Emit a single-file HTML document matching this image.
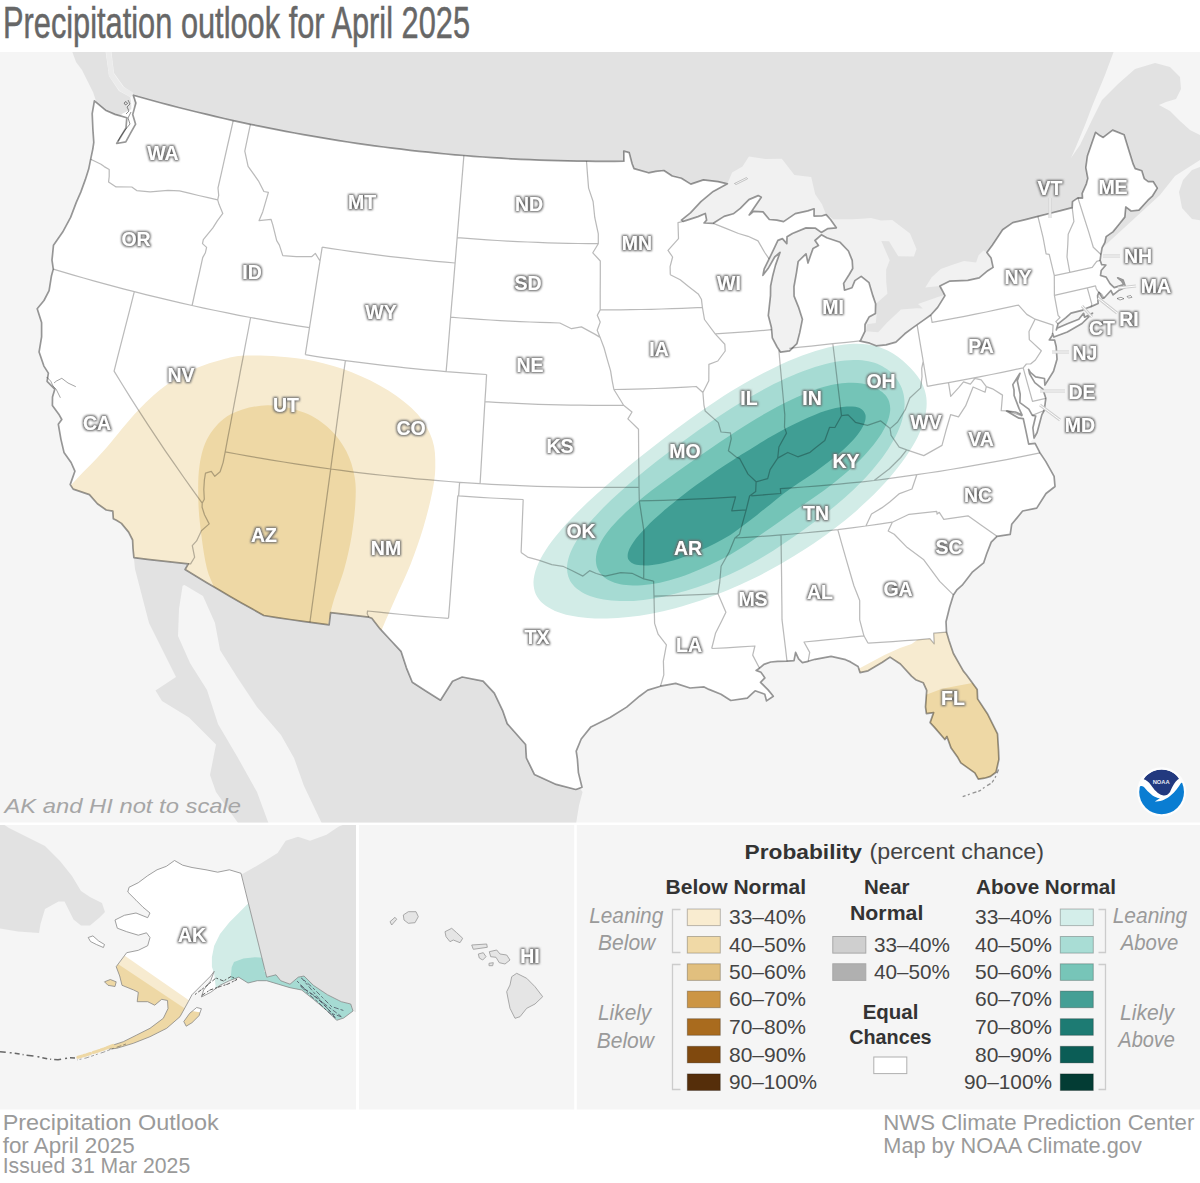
<!DOCTYPE html>
<html><head><meta charset="utf-8"><title>Precipitation outlook for April 2025</title>
<style>
html,body{margin:0;padding:0;background:#fff;}
body{width:1200px;height:1183px;position:relative;overflow:hidden;font-family:"Liberation Sans",sans-serif;}
svg{position:absolute;left:0;top:0;}
text{font-family:"Liberation Sans",sans-serif;}
.lab{font-weight:bold;font-size:19.5px;fill:#fff;text-anchor:middle;}
</style></head><body>
<svg width="1200" height="1183" viewBox="0 0 1200 1183">
<defs>
<clipPath id="mapclip"><rect x="0" y="52" width="1200" height="770.5"/></clipPath>
<clipPath id="usclip"><path d="M133.3 95.2L142.3 97.7L151.3 100.2L160.4 102.7L169.4 105.1L178.5 107.5L187.6 109.8L196.7 112.0L205.8 114.2L214.9 116.4L224.0 118.5L233.2 120.6L250.4 124.3L259.2 126.1L268.0 127.9L276.9 129.7L285.7 131.4L294.5 133.0L303.4 134.6L312.3 136.2L321.1 137.7L330.0 139.2L338.9 140.6L347.8 142.0L356.7 143.3L365.6 144.6L374.5 145.8L383.4 147.0L392.3 148.1L401.3 149.2L410.2 150.3L419.2 151.3L428.1 152.2L437.1 153.1L446.0 154.0L455.0 154.8L463.9 155.5L473.3 156.3L482.8 157.0L492.2 157.6L501.6 158.2L511.0 158.8L520.5 159.3L529.9 159.7L539.3 160.1L548.7 160.4L558.2 160.7L567.6 160.9L577.1 161.1L586.5 161.2L595.9 161.3L605.2 161.3L614.6 161.3L623.9 161.2L623.8 151.0L629.2 152.6L632.1 163.8L634.0 168.6L648.5 172.8L655.7 171.3L663.9 170.5L672.2 176.0L681.4 178.3L690.8 184.1L703.4 179.9L718.1 181.7L727.4 183.8L713.2 191.4L700.9 201.6L690.4 212.9L681.4 220.1L683.3 221.4L698.0 216.6L705.3 213.5L706.6 220.2L704.0 223.0L713.3 223.3L724.1 216.4L733.3 213.8L740.3 208.4L748.9 199.6L758.2 195.6L761.3 197.2L753.4 208.7L749.2 215.0L753.6 211.4L763.0 211.9L769.3 219.5L776.8 220.1L783.6 221.6L795.3 213.6L807.8 210.9L814.1 208.8L814.0 216.1L821.6 216.0L826.1 214.6L830.5 219.5L836.3 227.8L827.9 228.6L821.3 232.4L815.5 228.2L806.0 227.9L792.4 233.5L787.0 236.8L786.8 243.6L782.4 238.6L777.9 240.4L773.9 248.9L769.1 258.9L764.2 268.9L762.9 275.3L768.1 268.6L774.7 257.0L780.0 252.4L775.5 265.1L772.6 276.3L770.6 286.0L770.5 295.6L768.3 315.5L771.4 327.5L772.3 337.8L777.1 347.0L780.6 352.2L789.6 350.8L796.9 343.7L799.8 332.4L802.4 319.3L798.5 307.1L794.1 296.1L794.0 286.5L796.5 272.6L798.2 261.5L806.0 253.8L808.0 263.1L810.9 254.6L813.1 248.4L818.5 245.5L815.0 240.5L821.4 234.8L826.7 237.7L840.1 242.3L848.4 251.0L852.2 260.4L852.7 268.5L849.2 274.5L843.6 283.4L844.5 290.2L852.0 287.8L854.9 280.6L861.2 276.4L869.0 282.7L872.9 295.9L875.6 303.7L875.4 313.4L869.0 317.1L865.0 324.5L864.9 331.4L860.2 341.2L869.6 343.2L876.1 345.8L886.1 344.9L895.9 342.1L904.8 333.8L912.0 328.4L924.7 319.4L930.8 315.0L937.7 307.4L945.0 295.6L939.9 286.0L949.9 281.1L967.8 280.4L979.2 277.8L987.8 270.7L993.1 267.4L991.1 258.1L986.9 252.6L992.3 245.3L1002.6 229.7L1012.8 222.6L1025.4 219.6L1037.9 216.4L1049.3 213.5L1060.8 210.6L1072.2 207.6L1072.5 201.6L1077.9 197.9L1082.5 198.1L1082.2 193.4L1086.4 183.8L1087.8 178.4L1085.8 167.7L1087.4 156.0L1095.6 132.3L1099.8 135.6L1103.2 137.4L1112.6 130.1L1124.1 134.7L1128.6 149.4L1133.2 164.2L1135.2 168.6L1141.8 170.8L1144.2 178.6L1148.2 181.6L1153.1 181.5L1157.3 188.1L1152.6 195.8L1147.9 200.2L1138.9 210.1L1131.1 211.0L1125.8 206.9L1124.8 217.1L1118.9 224.5L1112.9 231.9L1106.1 236.6L1104.8 242.7L1102.1 247.6L1100.9 254.5L1100.1 260.3L1101.7 264.7L1105.9 265.0L1101.2 270.5L1100.5 275.5L1106.1 277.1L1110.0 283.6L1114.2 287.6L1123.8 284.6L1121.8 281.2L1117.7 277.8L1123.1 280.0L1125.6 287.2L1119.1 290.2L1113.1 294.9L1110.9 290.5L1104.1 298.0L1102.6 298.4L1098.9 292.3L1097.6 295.5L1098.1 303.5L1091.0 306.6L1086.4 308.3L1081.8 310.4L1071.0 313.1L1065.9 317.7L1058.0 323.9L1056.3 329.9L1057.0 328.3L1067.4 323.8L1078.8 319.3L1083.6 313.3L1084.6 317.2L1092.5 313.2L1082.0 323.5L1067.3 332.0L1053.9 337.0L1052.6 333.6L1052.4 335.1L1049.3 340.0L1054.6 340.2L1056.2 346.8L1057.0 359.2L1053.5 371.3L1044.9 385.1L1044.5 378.5L1035.6 376.8L1030.4 372.4L1028.6 369.4L1029.6 373.9L1034.8 382.6L1042.9 389.2L1045.8 398.3L1044.2 410.5L1041.9 414.6L1037.1 432.5L1034.0 438.0L1032.9 427.8L1035.7 416.0L1032.3 415.4L1028.8 409.1L1019.9 402.6L1020.2 394.2L1017.3 380.8L1020.0 373.3L1012.8 384.6L1014.0 389.9L1014.1 395.5L1019.0 408.4L1022.1 415.0L1015.4 412.0L1006.6 411.0L1018.9 418.2L1023.3 418.7L1025.6 429.4L1028.1 441.4L1028.7 444.1L1035.1 443.3L1040.0 452.9L1045.7 461.4L1054.1 476.4L1055.0 486.5L1046.0 493.5L1036.7 508.1L1022.6 511.0L1011.7 524.3L1010.2 534.3L997.0 536.3L991.2 542.1L986.6 554.0L983.6 562.9L972.6 571.8L962.2 585.2L957.1 589.6L953.4 594.9L949.6 607.3L946.0 621.7L946.5 632.1L949.0 640.5L953.4 653.5L963.4 671.1L966.4 674.7L977.2 689.4L977.6 698.9L987.4 713.7L997.5 733.8L998.5 750.0L998.9 759.4L996.0 772.2L990.5 776.4L984.5 778.2L978.3 779.2L974.8 772.9L960.8 762.9L957.3 756.7L951.1 748.1L946.9 736.5L944.9 739.5L934.5 727.4L930.1 722.6L933.6 712.6L926.4 713.6L925.5 706.9L926.7 690.4L923.2 682.7L915.6 679.7L911.5 676.1L900.4 664.0L890.0 657.1L882.4 662.2L868.1 670.8L860.0 672.6L858.1 666.5L850.5 661.9L845.6 659.7L831.1 656.3L815.0 659.3L808.1 661.3L802.4 662.6L798.6 658.9L795.6 652.3L794.0 660.6L787.0 661.2L777.7 661.4L770.7 662.0L763.9 664.4L759.5 668.2L756.1 670.4L760.9 672.2L764.9 677.9L760.5 682.3L768.1 689.9L773.3 696.3L766.5 700.9L764.8 694.2L755.1 690.8L751.8 693.8L747.3 698.1L730.8 700.5L721.0 694.2L709.0 689.4L704.1 686.9L690.0 688.0L675.7 683.4L660.5 686.2L647.7 690.1L639.5 696.2L626.6 707.1L610.0 717.5L590.9 726.9L581.2 739.0L576.2 751.1L577.4 759.2L578.4 772.6L582.0 787.2L575.8 789.5L556.2 784.4L534.4 774.4L526.4 758.0L525.6 744.5L507.2 723.6L502.9 711.2L494.3 693.2L483.1 681.2L462.2 677.0L452.5 681.2L440.5 700.2L425.8 691.0L412.3 682.2L406.5 668.1L401.0 651.3L390.4 640.0L379.9 628.7L371.8 618.3L368.9 617.2L356.1 615.7L343.4 614.2L330.6 612.7L329.1 624.8L316.0 623.1L303.0 621.3L289.9 619.5L276.9 617.6L263.8 615.5L252.4 609.1L241.0 602.7L229.7 596.2L218.4 589.6L207.2 583.0L196.1 576.3L185.1 569.5L188.3 563.8L174.7 562.4L161.1 560.9L147.5 559.3L133.9 557.6L133.0 548.5L132.6 540.0L128.6 532.1L121.4 523.4L116.4 520.3L113.3 518.7L112.8 511.1L106.2 510.0L97.4 503.7L89.4 494.6L73.2 489.1L70.2 484.6L74.9 471.2L71.1 462.5L64.0 452.4L60.9 439.1L58.3 424.2L61.8 419.5L58.8 414.2L52.4 405.5L52.5 397.0L54.8 389.2L47.1 381.3L48.4 373.1L43.9 366.1L39.1 351.9L41.6 336.9L41.6 322.6L37.2 308.7L44.0 300.5L49.1 290.6L51.5 275.7L53.3 269.1L52.0 260.2L53.5 245.2L62.7 232.1L70.6 217.4L76.4 202.1L80.8 192.1L85.4 179.4L88.7 169.1L90.7 159.2L92.8 149.1L93.8 142.4L92.9 129.4L92.2 113.7L94.4 100.9L105.5 110.2L115.0 114.4L126.8 117.8L126.0 128.0L116.7 143.5L125.8 141.9L130.4 133.4L135.6 124.2L132.7 114.5L135.9 102.9L133.3 95.2Z"/></clipPath>
<filter id="halo" x="-20%" y="-30%" width="140%" height="160%">
<feMorphology in="SourceAlpha" operator="dilate" radius="0.8" result="d"/>
<feGaussianBlur in="d" stdDeviation="0.8" result="b"/>
<feFlood flood-color="#6a6a6a" flood-opacity="1"/><feComposite in2="b" operator="in" result="s"/>
<feComponentTransfer in="s" result="s2"><feFuncA type="linear" slope="1.05"/></feComponentTransfer>
<feMerge><feMergeNode in="s2"/><feMergeNode in="SourceGraphic"/></feMerge>
</filter>
</defs>
<!-- title -->
<text x="3" y="38" font-size="44.5" fill="#676767" stroke="#676767" stroke-width="0.5" textLength="467" lengthAdjust="spacingAndGlyphs">Precipitation outlook for April 2025</text>
<!-- main map -->
<g clip-path="url(#mapclip)">
<rect x="0" y="52" width="1200" height="771" fill="#f5f5f5"/>
<path d="M110.0 40.0L114.0 73.0L124.0 87.0L133.0 93.0L140.0 140.0L300.0 200.0L600.0 230.0L720.0 260.0L760.0 330.0L900.0 400.0L960.0 330.0L1040.0 250.0L1100.0 250.0L1160.0 195.0L1175.0 176.0L1200.0 160.0L1200.0 135.0L1190.0 130.0L1180.0 121.0L1170.0 111.0L1159.0 105.0L1166.0 102.0L1176.0 99.0L1181.0 89.0L1180.0 77.0L1170.0 67.0L1155.0 63.0L1135.0 69.0L1118.0 84.0L1102.0 100.0L1092.0 120.0L1080.0 145.0L1071.0 158.0L1075.0 149.0L1085.0 125.0L1093.0 104.0L1105.0 75.0L1118.0 40.0Z" fill="#e2e2e2"/>
<path d="M68.0 40.0L104.0 40.0L109.0 76.0L119.0 91.0L130.0 97.0L133.0 110.0L110.0 120.0L97.0 104.0L93.0 92.0L88.0 82.0L82.0 70.0L76.0 62.0Z" fill="#e2e2e2"/>
<path d="M107 40L111.5 75L121.5 89L132 95" fill="none" stroke="#ebebeb" stroke-width="5"/>
<path d="M1210.0 163.0L1192.0 170.0L1183.0 180.0L1179.0 192.0L1182.0 208.0L1192.0 219.0L1210.0 222.0Z" fill="#e2e2e2"/>
<path d="M133.9 557.6L135.0 569.0L142.0 596.0L149.0 623.0L166.0 657.0L176.0 677.0L155.5 690.5L162.0 701.0L189.0 717.5L216.0 744.6L210.0 775.0L216.0 792.0L243.0 830.0L271.0 830.0L257.0 792.0L238.0 758.0L218.0 724.0L207.0 690.0L190.0 663.0L178.0 636.0L179.0 609.0L182.6 585.7L184.5 585.0L203.0 596.0L215.0 623.0L220.0 650.0L237.0 677.0L257.0 707.0L281.0 735.0L294.0 758.0L304.0 786.0L325.0 830.0L575.0 830.0L579.0 805.5L582.6 792.0L578.5 786.0L582.0 787.2L575.8 789.5L556.2 784.4L534.4 774.4L526.4 758.0L525.6 744.5L507.2 723.6L502.9 711.2L494.3 693.2L483.1 681.2L462.2 677.0L452.5 681.2L440.5 700.2L425.8 691.0L412.3 682.2L406.5 668.1L401.0 651.3L390.4 640.0L379.9 628.7L371.8 618.3L368.9 617.2L356.1 615.7L343.4 614.2L330.6 612.7L329.1 624.8L316.0 623.1L303.0 621.3L289.9 619.5L276.9 617.6L263.8 615.5L252.4 609.1L241.0 602.7L229.7 596.2L218.4 589.6L207.2 583.0L196.1 576.3L185.1 569.5L188.3 563.8L174.7 562.4L161.1 560.9L147.5 559.3L133.9 557.6Z" fill="#e2e2e2"/>
<path d="M727.4 183.8L732.1 172.6L742.5 166.5L748.9 156.5L765.5 159.1L781.8 158.8L794.4 175.0L811.2 177.1L815.2 194.2L822.0 204.3L826.1 214.6L815.9 220.0L805.7 225.2L796.3 226.3L787.0 227.3L777.6 228.2L768.2 228.6L758.8 229.0L749.5 229.4L740.1 229.7L730.7 229.9L721.3 230.1L710.4 228.7L699.5 227.3L688.7 225.8L677.9 224.3L681.2 216.1L691.1 207.5L700.8 198.9Z" fill="#f1f1f1"/>
<path d="M826.1 214.6L833.3 219.2L842.8 219.3L852.3 219.3L861.6 218.7L871.0 218.0L881.0 220.5L892.3 220.1L910.0 233.6L916.5 249.0L913.9 256.4L898.2 256.2L889.0 241.2L881.3 241.0L889.7 260.3L886.1 269.7L886.2 281.5L887.4 293.7L876.0 303.7L876.6 314.6L875.8 323.0L867.0 324.3L865.9 331.3L857.5 328.3L857.1 310.5L856.6 292.7L839.2 295.0L838.7 281.3L838.3 267.7L837.8 254.1L827.3 247.2L816.9 240.3L809.7 227.5Z" fill="#f1f1f1"/>
<path d="M820.0 234.5L805.7 225.2L794.7 229.2L783.8 233.0L772.8 236.8L768.4 250.8L763.9 264.8L759.3 278.9L761.9 297.7L764.5 316.6L767.0 330.1L769.5 343.6L772.0 357.0L784.0 355.9L796.0 354.8L801.6 340.5L807.1 326.2L805.2 312.7L803.2 299.2L801.3 285.7L799.4 272.3L816.3 267.7L821.6 247.9Z" fill="#f1f1f1"/>
<path d="M865.9 331.3L878.2 332.3L886.9 322.7L900.9 309.5L916.7 308.3L922.8 308.6L918.0 303.9L928.0 300.6L937.9 297.1L944.5 295.1L948.0 302.8L937.7 313.0L927.3 323.1L918.5 331.0L909.7 339.0L900.7 346.8L890.7 348.4L880.7 349.8L870.8 351.3L857.3 342.1Z" fill="#f1f1f1"/>
<path d="M939.9 286.0L925.2 287.5L931.7 277.2L940.7 269.0L953.3 264.4L963.9 260.9L976.1 262.6L978.6 255.2L983.5 250.5L986.9 252.6L996.2 254.2L998.3 273.2L989.1 277.0L979.9 280.8L970.6 284.5L961.1 287.3L951.6 290.1L942.1 292.8Z" fill="#f1f1f1"/>
<path d="M131.3 95.6L136.4 122.7L126.2 142.1L116.1 143.0L126.2 117.6L121.2 114.2L131.3 109.2Z" fill="#fff"/>
<path d="M1028.7 444.1L1034.0 438.0L1032.9 427.8L1035.7 416.0L1028.8 409.1L1020.2 394.2L1020.0 373.3L1012.8 384.6L1014.1 395.5L1019.0 408.4L1006.6 411.0L1023.3 418.7L1028.1 441.4ZM1028.6 369.4L1030.4 372.4L1044.5 378.5L1044.9 385.1L1042.9 389.2L1034.8 382.6Z" fill="#fff"/>
<path d="M133.3 95.2L142.3 97.7L151.3 100.2L160.4 102.7L169.4 105.1L178.5 107.5L187.6 109.8L196.7 112.0L205.8 114.2L214.9 116.4L224.0 118.5L233.2 120.6L250.4 124.3L259.2 126.1L268.0 127.9L276.9 129.7L285.7 131.4L294.5 133.0L303.4 134.6L312.3 136.2L321.1 137.7L330.0 139.2L338.9 140.6L347.8 142.0L356.7 143.3L365.6 144.6L374.5 145.8L383.4 147.0L392.3 148.1L401.3 149.2L410.2 150.3L419.2 151.3L428.1 152.2L437.1 153.1L446.0 154.0L455.0 154.8L463.9 155.5L473.3 156.3L482.8 157.0L492.2 157.6L501.6 158.2L511.0 158.8L520.5 159.3L529.9 159.7L539.3 160.1L548.7 160.4L558.2 160.7L567.6 160.9L577.1 161.1L586.5 161.2L595.9 161.3L605.2 161.3L614.6 161.3L623.9 161.2L623.8 151.0L629.2 152.6L632.1 163.8L634.0 168.6L648.5 172.8L655.7 171.3L663.9 170.5L672.2 176.0L681.4 178.3L690.8 184.1L703.4 179.9L718.1 181.7L727.4 183.8L713.2 191.4L700.9 201.6L690.4 212.9L681.4 220.1L683.3 221.4L698.0 216.6L705.3 213.5L706.6 220.2L704.0 223.0L713.3 223.3L724.1 216.4L733.3 213.8L740.3 208.4L748.9 199.6L758.2 195.6L761.3 197.2L753.4 208.7L749.2 215.0L753.6 211.4L763.0 211.9L769.3 219.5L776.8 220.1L783.6 221.6L795.3 213.6L807.8 210.9L814.1 208.8L814.0 216.1L821.6 216.0L826.1 214.6L830.5 219.5L836.3 227.8L827.9 228.6L821.3 232.4L815.5 228.2L806.0 227.9L792.4 233.5L787.0 236.8L786.8 243.6L782.4 238.6L777.9 240.4L773.9 248.9L769.1 258.9L764.2 268.9L762.9 275.3L768.1 268.6L774.7 257.0L780.0 252.4L775.5 265.1L772.6 276.3L770.6 286.0L770.5 295.6L768.3 315.5L771.4 327.5L772.3 337.8L777.1 347.0L780.6 352.2L789.6 350.8L796.9 343.7L799.8 332.4L802.4 319.3L798.5 307.1L794.1 296.1L794.0 286.5L796.5 272.6L798.2 261.5L806.0 253.8L808.0 263.1L810.9 254.6L813.1 248.4L818.5 245.5L815.0 240.5L821.4 234.8L826.7 237.7L840.1 242.3L848.4 251.0L852.2 260.4L852.7 268.5L849.2 274.5L843.6 283.4L844.5 290.2L852.0 287.8L854.9 280.6L861.2 276.4L869.0 282.7L872.9 295.9L875.6 303.7L875.4 313.4L869.0 317.1L865.0 324.5L864.9 331.4L860.2 341.2L869.6 343.2L876.1 345.8L886.1 344.9L895.9 342.1L904.8 333.8L912.0 328.4L924.7 319.4L930.8 315.0L937.7 307.4L945.0 295.6L939.9 286.0L949.9 281.1L967.8 280.4L979.2 277.8L987.8 270.7L993.1 267.4L991.1 258.1L986.9 252.6L992.3 245.3L1002.6 229.7L1012.8 222.6L1025.4 219.6L1037.9 216.4L1049.3 213.5L1060.8 210.6L1072.2 207.6L1072.5 201.6L1077.9 197.9L1082.5 198.1L1082.2 193.4L1086.4 183.8L1087.8 178.4L1085.8 167.7L1087.4 156.0L1095.6 132.3L1099.8 135.6L1103.2 137.4L1112.6 130.1L1124.1 134.7L1128.6 149.4L1133.2 164.2L1135.2 168.6L1141.8 170.8L1144.2 178.6L1148.2 181.6L1153.1 181.5L1157.3 188.1L1152.6 195.8L1147.9 200.2L1138.9 210.1L1131.1 211.0L1125.8 206.9L1124.8 217.1L1118.9 224.5L1112.9 231.9L1106.1 236.6L1104.8 242.7L1102.1 247.6L1100.9 254.5L1100.1 260.3L1101.7 264.7L1105.9 265.0L1101.2 270.5L1100.5 275.5L1106.1 277.1L1110.0 283.6L1114.2 287.6L1123.8 284.6L1121.8 281.2L1117.7 277.8L1123.1 280.0L1125.6 287.2L1119.1 290.2L1113.1 294.9L1110.9 290.5L1104.1 298.0L1102.6 298.4L1098.9 292.3L1097.6 295.5L1098.1 303.5L1091.0 306.6L1086.4 308.3L1081.8 310.4L1071.0 313.1L1065.9 317.7L1058.0 323.9L1056.3 329.9L1057.0 328.3L1067.4 323.8L1078.8 319.3L1083.6 313.3L1084.6 317.2L1092.5 313.2L1082.0 323.5L1067.3 332.0L1053.9 337.0L1052.6 333.6L1052.4 335.1L1049.3 340.0L1054.6 340.2L1056.2 346.8L1057.0 359.2L1053.5 371.3L1044.9 385.1L1044.5 378.5L1035.6 376.8L1030.4 372.4L1028.6 369.4L1029.6 373.9L1034.8 382.6L1042.9 389.2L1045.8 398.3L1044.2 410.5L1041.9 414.6L1037.1 432.5L1034.0 438.0L1032.9 427.8L1035.7 416.0L1032.3 415.4L1028.8 409.1L1019.9 402.6L1020.2 394.2L1017.3 380.8L1020.0 373.3L1012.8 384.6L1014.0 389.9L1014.1 395.5L1019.0 408.4L1022.1 415.0L1015.4 412.0L1006.6 411.0L1018.9 418.2L1023.3 418.7L1025.6 429.4L1028.1 441.4L1028.7 444.1L1035.1 443.3L1040.0 452.9L1045.7 461.4L1054.1 476.4L1055.0 486.5L1046.0 493.5L1036.7 508.1L1022.6 511.0L1011.7 524.3L1010.2 534.3L997.0 536.3L991.2 542.1L986.6 554.0L983.6 562.9L972.6 571.8L962.2 585.2L957.1 589.6L953.4 594.9L949.6 607.3L946.0 621.7L946.5 632.1L949.0 640.5L953.4 653.5L963.4 671.1L966.4 674.7L977.2 689.4L977.6 698.9L987.4 713.7L997.5 733.8L998.5 750.0L998.9 759.4L996.0 772.2L990.5 776.4L984.5 778.2L978.3 779.2L974.8 772.9L960.8 762.9L957.3 756.7L951.1 748.1L946.9 736.5L944.9 739.5L934.5 727.4L930.1 722.6L933.6 712.6L926.4 713.6L925.5 706.9L926.7 690.4L923.2 682.7L915.6 679.7L911.5 676.1L900.4 664.0L890.0 657.1L882.4 662.2L868.1 670.8L860.0 672.6L858.1 666.5L850.5 661.9L845.6 659.7L831.1 656.3L815.0 659.3L808.1 661.3L802.4 662.6L798.6 658.9L795.6 652.3L794.0 660.6L787.0 661.2L777.7 661.4L770.7 662.0L763.9 664.4L759.5 668.2L756.1 670.4L760.9 672.2L764.9 677.9L760.5 682.3L768.1 689.9L773.3 696.3L766.5 700.9L764.8 694.2L755.1 690.8L751.8 693.8L747.3 698.1L730.8 700.5L721.0 694.2L709.0 689.4L704.1 686.9L690.0 688.0L675.7 683.4L660.5 686.2L647.7 690.1L639.5 696.2L626.6 707.1L610.0 717.5L590.9 726.9L581.2 739.0L576.2 751.1L577.4 759.2L578.4 772.6L582.0 787.2L575.8 789.5L556.2 784.4L534.4 774.4L526.4 758.0L525.6 744.5L507.2 723.6L502.9 711.2L494.3 693.2L483.1 681.2L462.2 677.0L452.5 681.2L440.5 700.2L425.8 691.0L412.3 682.2L406.5 668.1L401.0 651.3L390.4 640.0L379.9 628.7L371.8 618.3L368.9 617.2L356.1 615.7L343.4 614.2L330.6 612.7L329.1 624.8L316.0 623.1L303.0 621.3L289.9 619.5L276.9 617.6L263.8 615.5L252.4 609.1L241.0 602.7L229.7 596.2L218.4 589.6L207.2 583.0L196.1 576.3L185.1 569.5L188.3 563.8L174.7 562.4L161.1 560.9L147.5 559.3L133.9 557.6L133.0 548.5L132.6 540.0L128.6 532.1L121.4 523.4L116.4 520.3L113.3 518.7L112.8 511.1L106.2 510.0L97.4 503.7L89.4 494.6L73.2 489.1L70.2 484.6L74.9 471.2L71.1 462.5L64.0 452.4L60.9 439.1L58.3 424.2L61.8 419.5L58.8 414.2L52.4 405.5L52.5 397.0L54.8 389.2L47.1 381.3L48.4 373.1L43.9 366.1L39.1 351.9L41.6 336.9L41.6 322.6L37.2 308.7L44.0 300.5L49.1 290.6L51.5 275.7L53.3 269.1L52.0 260.2L53.5 245.2L62.7 232.1L70.6 217.4L76.4 202.1L80.8 192.1L85.4 179.4L88.7 169.1L90.7 159.2L92.8 149.1L93.8 142.4L92.9 129.4L92.2 113.7L94.4 100.9L105.5 110.2L115.0 114.4L126.8 117.8L126.0 128.0L116.7 143.5L125.8 141.9L130.4 133.4L135.6 124.2L132.7 114.5L135.9 102.9L133.3 95.2Z" fill="#fff"/>
<g clip-path="url(#usclip)">
<path d="M30.0 530.0C37.4 521.9 62.1 494.7 74.4 481.5C86.7 468.3 94.2 461.5 103.7 450.8C113.2 440.1 123.2 426.7 131.6 417.4C140.0 408.1 146.5 401.5 153.9 395.0C161.3 388.5 168.8 382.9 176.2 378.3C183.6 373.7 191.2 370.2 198.5 367.2C205.8 364.2 212.8 362.1 220.0 360.2C227.2 358.3 232.0 356.3 241.7 355.7C251.4 355.1 266.2 355.5 278.4 356.4C290.6 357.3 302.8 358.6 315.0 361.2C327.2 363.8 339.5 367.3 351.7 372.2C363.9 377.1 377.4 383.5 388.4 390.5C399.4 397.5 410.4 406.1 417.7 414.3C425.0 422.6 429.5 431.4 432.4 440.0C435.3 448.6 435.3 457.1 435.3 465.7C435.3 474.2 434.4 480.9 432.4 491.3C430.4 501.7 426.9 515.8 423.2 528.0C419.5 540.2 415.0 553.1 410.4 564.7C405.8 576.3 400.3 587.3 395.7 597.7C391.1 608.1 387.2 616.6 382.9 627.0C378.6 637.4 372.1 654.5 370.0 660.0L200 700L50 650Z" fill="#f7ebd0"/>
<path d="M230.0 650.0C227.7 640.7 219.8 607.6 216.0 594.0C212.2 580.4 209.3 578.2 206.9 568.4C204.5 558.6 202.8 546.4 201.4 535.4C200.0 524.4 198.7 514.0 198.4 502.4C198.1 490.8 197.8 476.7 199.5 465.7C201.2 454.7 203.5 444.9 208.7 436.3C213.9 427.7 220.9 419.5 230.7 414.3C240.5 409.1 255.2 405.5 267.4 405.2C279.6 404.9 293.6 408.5 304.0 412.5C314.4 416.5 322.7 422.6 329.7 429.0C336.7 435.4 342.0 443.1 346.2 451.0C350.4 458.9 353.1 468.1 354.6 476.7C356.1 485.3 355.9 492.6 355.4 502.4C354.9 512.2 353.5 524.4 351.7 535.4C349.9 546.4 347.4 557.4 344.4 568.4C341.3 579.4 336.1 592.2 333.4 601.4C330.6 610.6 330.1 615.3 327.9 623.4C325.7 631.5 321.3 645.6 320.0 650.0Z" fill="#eed8a5"/>
<path d="M543.2 603.8C540.0 601.0 537.4 597.8 535.8 594.2C534.2 590.5 533.4 586.3 533.5 581.8C533.7 577.3 534.8 572.2 536.8 567.0C538.8 561.7 541.9 556.0 545.6 550.2C549.3 544.4 554.0 538.3 559.1 532.2C564.2 526.1 570.1 519.8 576.3 513.5C582.4 507.3 589.1 501.0 595.9 494.8C602.8 488.5 609.9 482.3 617.2 476.0C624.6 469.8 632.1 463.5 639.8 457.3C647.6 451.0 655.5 444.7 663.8 438.4C672.0 432.1 680.5 425.7 689.3 419.4C698.1 413.1 707.2 406.8 716.5 400.7C725.8 394.7 735.5 388.6 745.1 383.1C754.7 377.6 764.6 372.3 774.2 367.7C783.7 363.1 793.3 359.0 802.2 355.6C811.2 352.3 819.9 349.6 827.9 347.6C835.9 345.7 843.3 344.6 850.0 344.1C856.7 343.6 862.7 343.9 868.0 344.6C873.4 345.3 878.0 346.6 882.2 348.2C886.5 349.7 890.0 351.8 893.4 353.8C896.8 355.9 899.7 358.2 902.6 360.6C905.4 363.0 908.0 365.4 910.5 368.0C913.0 370.6 915.4 373.3 917.5 376.2C919.6 379.2 921.6 382.2 923.1 385.7C924.5 389.2 925.8 393.0 926.3 397.3C926.8 401.6 926.9 406.3 926.0 411.5C925.2 416.7 923.7 422.4 921.4 428.4C919.0 434.4 915.8 441.0 911.8 447.6C907.8 454.3 902.9 461.3 897.3 468.3C891.8 475.3 885.5 482.6 878.7 489.6C871.9 496.6 864.5 503.6 856.8 510.4C849.1 517.1 840.9 523.7 832.5 530.0C824.2 536.3 815.5 542.4 806.8 548.1C798.1 553.8 789.2 559.2 780.3 564.3C771.5 569.4 762.5 574.1 753.5 578.5C744.6 582.9 735.7 587.0 726.9 590.6C718.0 594.3 709.2 597.6 700.7 600.6C692.1 603.5 683.6 606.1 675.3 608.2C667.1 610.4 659.0 612.2 651.2 613.7C643.4 615.2 635.8 616.3 628.4 617.1C621.1 617.9 614.0 618.4 607.2 618.5C600.5 618.7 593.9 618.5 587.7 618.0C581.5 617.5 575.6 616.7 570.1 615.5C564.7 614.3 559.5 612.8 555.0 610.9C550.5 608.9 546.4 606.6 543.2 603.8Z" fill="#d2ece7"/>
<path d="M573.1 585.1C570.8 582.5 569.2 579.5 568.2 576.3C567.2 573.0 566.8 569.4 567.1 565.5C567.5 561.7 568.5 557.4 570.3 553.0C572.0 548.6 574.5 543.8 577.6 538.9C580.6 534.1 584.5 528.9 588.7 523.8C593.0 518.7 597.9 513.4 603.0 508.1C608.2 502.8 613.9 497.5 619.7 492.3C625.5 487.0 631.6 481.8 637.8 476.6C644.0 471.4 650.5 466.3 657.0 461.1C663.5 456.0 670.2 450.9 677.0 445.8C683.9 440.7 690.8 435.6 698.0 430.5C705.2 425.4 712.6 420.3 720.2 415.4C727.8 410.4 735.6 405.4 743.6 400.7C751.5 396.0 759.7 391.4 767.7 387.2C775.8 383.1 784.0 379.1 791.9 375.8C799.7 372.4 807.6 369.5 814.9 367.1C822.2 364.8 829.3 363.0 835.8 361.8C842.3 360.6 848.3 360.0 853.7 359.9C859.1 359.8 864.0 360.3 868.3 361.2C872.7 362.0 876.5 363.3 879.9 364.9C883.3 366.5 886.2 368.4 888.9 370.6C891.5 372.7 893.8 375.1 895.8 377.7C897.7 380.2 899.5 383.0 900.8 386.1C902.2 389.1 903.3 392.3 903.9 395.9C904.5 399.5 904.8 403.4 904.4 407.6C904.1 411.8 903.3 416.3 901.8 421.2C900.3 426.1 898.2 431.3 895.4 436.8C892.6 442.2 889.1 448.0 885.0 453.8C881.0 459.6 876.2 465.7 871.0 471.6C865.9 477.5 860.0 483.5 854.0 489.2C848.0 495.0 841.5 500.6 835.0 506.0C828.4 511.5 821.5 516.6 814.7 521.7C807.9 526.7 801.0 531.8 794.2 536.6C787.3 541.4 780.4 546.0 773.5 550.4C766.5 554.8 759.5 559.1 752.4 563.1C745.3 567.0 738.0 570.6 730.7 574.0C723.3 577.4 715.8 580.4 708.4 583.2C701.0 586.1 693.4 588.6 686.1 590.8C678.7 593.0 671.3 594.9 664.2 596.5C657.1 598.0 650.1 599.1 643.5 599.9C636.8 600.7 630.4 601.1 624.4 601.1C618.4 601.1 612.7 600.8 607.5 600.1C602.3 599.4 597.4 598.4 593.1 597.0C588.8 595.7 584.8 594.0 581.5 592.0C578.2 590.0 575.3 587.7 573.1 585.1Z" fill="#a6dbd3"/>
<path d="M598.0 569.5C596.9 567.2 596.2 564.7 596.0 562.0C595.7 559.3 595.9 556.5 596.6 553.5C597.2 550.4 598.3 547.2 600.0 543.8C601.7 540.4 603.9 536.7 606.7 533.0C609.4 529.3 612.8 525.3 616.5 521.4C620.2 517.4 624.5 513.3 629.1 509.2C633.6 505.1 638.6 500.9 643.7 496.8C648.8 492.7 654.2 488.6 659.7 484.6C665.1 480.5 670.7 476.5 676.2 472.5C681.8 468.5 687.5 464.5 693.2 460.5C698.9 456.5 704.7 452.4 710.6 448.4C716.6 444.3 722.6 440.2 728.8 436.2C735.0 432.1 741.3 427.9 747.7 424.0C754.2 420.0 760.8 416.0 767.4 412.2C773.9 408.5 780.6 404.9 787.1 401.7C793.5 398.6 800.0 395.6 806.0 393.2C812.0 390.7 817.9 388.7 823.3 387.1C828.7 385.5 833.8 384.4 838.5 383.7C843.1 382.9 847.3 382.7 851.3 382.7C855.2 382.6 858.7 383.0 862.0 383.6C865.3 384.1 868.3 385.0 871.1 386.0C873.9 387.0 876.5 388.2 878.9 389.7C881.2 391.2 883.4 392.8 885.1 394.8C886.8 396.8 888.3 399.1 889.2 401.9C890.0 404.6 890.5 407.7 890.1 411.2C889.7 414.8 888.7 418.8 886.9 423.2C885.1 427.5 882.4 432.3 879.1 437.3C875.7 442.2 871.5 447.6 866.8 452.8C862.2 458.0 856.7 463.4 851.0 468.5C845.4 473.6 839.2 478.7 833.1 483.5C827.1 488.2 820.7 492.7 814.6 497.0C808.5 501.3 802.4 505.2 796.7 509.2C790.9 513.3 785.5 517.3 780.0 521.2C774.5 525.1 769.2 528.8 763.8 532.6C758.3 536.4 753.0 540.2 747.3 543.9C741.6 547.6 735.8 551.4 729.7 554.9C723.5 558.4 716.9 561.7 710.3 564.8C703.7 567.9 696.7 570.9 690.0 573.5C683.2 576.1 676.2 578.4 669.6 580.2C663.1 582.0 656.5 583.4 650.6 584.3C644.6 585.1 638.9 585.5 633.9 585.5C628.8 585.6 624.2 585.0 620.3 584.3C616.3 583.5 612.8 582.3 609.9 580.8C607.0 579.4 604.6 577.7 602.6 575.8C600.6 573.9 599.1 571.8 598.0 569.5Z" fill="#74c4b7"/>
<path d="M627.7 554.8C627.9 552.9 628.6 550.7 629.6 548.5C630.6 546.4 632.1 544.1 633.7 541.7C635.3 539.4 637.3 537.0 639.4 534.6C641.4 532.2 643.7 529.7 646.2 527.2C648.6 524.7 651.2 522.2 653.9 519.6C656.7 517.0 659.6 514.4 662.7 511.7C665.8 509.0 669.0 506.2 672.6 503.4C676.1 500.5 679.8 497.5 683.8 494.5C687.7 491.5 691.9 488.3 696.3 485.1C700.8 481.9 705.4 478.6 710.3 475.2C715.1 471.9 720.2 468.5 725.3 465.1C730.4 461.7 735.8 458.2 741.1 454.8C746.4 451.5 751.8 448.1 757.1 444.9C762.4 441.7 767.7 438.5 772.9 435.6C778.0 432.7 783.1 429.9 787.9 427.3C792.8 424.8 797.4 422.4 801.9 420.4C806.3 418.3 810.5 416.5 814.5 414.9C818.5 413.3 822.2 411.9 825.7 410.8C829.3 409.7 832.6 408.8 835.7 408.1C838.8 407.4 841.7 406.9 844.5 406.7C847.2 406.4 849.8 406.3 852.1 406.5C854.4 406.6 856.4 406.8 858.3 407.4C860.1 408.1 861.8 409.1 863.0 410.4C864.2 411.7 865.2 413.3 865.5 415.1C865.8 417.0 865.7 419.2 864.9 421.6C864.2 424.1 862.9 426.9 860.9 429.9C859.0 432.9 856.4 436.3 853.4 439.7C850.3 443.1 846.5 446.8 842.5 450.5C838.4 454.1 833.8 457.9 829.0 461.6C824.3 465.3 819.2 469.1 814.1 472.7C809.0 476.3 803.6 479.7 798.6 483.1C793.5 486.6 788.5 490.0 783.7 493.6C779.0 497.2 774.6 500.9 770.2 504.5C765.7 508.0 761.4 511.4 757.1 514.9C752.7 518.3 748.4 521.6 743.9 525.0C739.5 528.3 735.1 531.9 730.3 535.0C725.5 538.0 720.3 540.8 715.0 543.5C709.8 546.2 704.2 548.7 698.7 551.0C693.3 553.3 687.6 555.6 682.2 557.4C676.8 559.3 671.4 561.0 666.4 562.2C661.4 563.5 656.5 564.4 652.3 564.9C648.0 565.4 644.1 565.6 640.9 565.3C637.6 565.1 634.9 564.4 632.9 563.5C630.9 562.6 629.5 561.3 628.6 559.8C627.7 558.4 627.6 556.7 627.7 554.8Z" fill="#409e94"/>
<path d="M850.0 685.0L859.2 668.5L884.5 655.0L900.0 648.0L911.6 644.0L917.5 639.8L929.9 638.7L934.2 643.8L933.7 633.2L946.5 632.1L1010.0 630.0L1010.0 810.0L850.0 810.0Z" fill="#f7ebd0"/>
<path d="M915.0 700.0L926.8 694.6L942.0 688.8L959.0 685.4L972.4 683.0L1010.0 680.0L1010.0 810.0L915.0 810.0Z" fill="#eed8a5"/>
</g>
<path d="M90.7 159.2L101.0 164.2L104.2 166.6L109.2 169.5L109.2 176.5L108.6 181.9L116.1 186.9L131.8 187.0L136.7 190.6L150.1 191.9L168.0 190.3L179.5 190.9L189.0 193.2L198.6 195.5L208.1 197.7L217.7 199.8M233.2 120.6L230.2 134.0L227.1 147.5L224.1 160.9L221.1 174.4L218.0 188.0L218.7 195.3L217.7 199.8M217.7 199.8L219.0 204.3L222.8 213.4L217.3 220.8L212.9 227.9L203.3 239.7L202.5 243.6L206.6 247.4L205.4 252.7L202.7 257.6L199.2 273.6L195.6 289.5L192.1 305.5M250.4 124.3L247.6 137.7L244.8 151.1L248.1 166.3L258.4 180.8L263.9 191.5L268.4 192.4L262.7 211.9L259.1 220.6L271.0 219.3L272.8 224.9L276.7 240.7L279.4 245.1L282.8 255.6L296.3 256.6L311.9 256.5L315.3 253.4L320.0 261.0M53.3 269.1L63.4 272.1L73.5 275.1L83.6 278.0L93.7 280.9L103.8 283.7L114.0 286.4L124.2 289.1L134.3 291.7L145.8 294.6L157.4 297.4L168.9 300.2L180.5 302.9L192.1 305.5L203.8 308.1L215.4 310.5L227.2 312.9L238.9 315.3L250.6 317.5L262.4 319.7L274.1 321.9L285.9 323.9L297.7 325.9L309.5 327.7M322.2 247.1L320.1 260.5L317.9 273.9L315.8 287.4L313.7 300.8L311.6 314.3L309.5 327.7L307.4 341.2L305.3 354.7M322.2 247.1L331.6 248.6L341.1 250.0L350.5 251.3L360.0 252.6L369.5 253.9L379.0 255.1L388.5 256.3L398.0 257.4L407.5 258.4L417.0 259.5L426.5 260.4L436.0 261.3L445.6 262.2L455.1 263.0M463.9 155.5L462.8 168.9L461.7 182.3L460.6 195.7L459.5 209.1L458.4 222.5L457.3 236.0L456.2 249.5L455.1 263.0L454.0 276.5L452.9 290.1L451.7 303.6L450.6 317.2L449.5 330.8L448.4 344.4L447.3 358.0L446.1 371.6M305.3 354.7L315.3 356.3L325.3 357.8L335.3 359.2L345.4 360.6L355.4 361.9L365.5 363.2L375.5 364.4L385.6 365.6L395.7 366.7L405.8 367.8L415.9 368.8L425.9 369.8L436.0 370.7L446.1 371.6L456.3 372.4L466.4 373.1L476.5 373.8L486.6 374.5M345.4 360.6L343.5 374.1L341.7 387.7L339.9 401.2L338.0 414.8L336.2 428.3L334.4 441.9L332.5 455.4L330.7 469.0L328.8 482.9L326.9 496.9L325.0 510.9L323.1 524.8L321.2 538.8L319.3 552.7L317.4 566.7L315.6 580.6L313.7 594.5L311.8 608.4L309.9 622.3M486.6 374.5L485.8 388.1L484.9 401.7L484.1 415.4L483.3 429.0L482.5 442.7L481.7 456.3L480.9 470.0L480.1 483.6M225.2 451.8L236.8 454.0L248.5 456.1L260.2 458.2L271.9 460.1L283.7 462.0L295.4 463.9L307.2 465.6L318.9 467.3L330.7 469.0L341.4 470.4L352.1 471.8L362.8 473.1L373.6 474.3L384.3 475.5L395.0 476.7L405.8 477.7L416.5 478.8L427.3 479.7L438.1 480.6L448.8 481.5L459.6 482.3L480.1 483.6L491.5 484.3L502.8 484.9L514.1 485.4L525.5 485.9L536.8 486.3L548.2 486.7L559.5 486.9L570.9 487.2L582.2 487.3L593.6 487.4L605.0 487.4L616.3 487.4L627.7 487.3L639.0 487.1M134.3 291.7L131.0 304.9L127.6 318.2L124.2 331.4L120.8 344.6L117.4 357.9L114.1 371.1L122.3 384.5L130.6 397.8L139.1 411.1L147.7 424.4L156.5 437.6L165.3 450.8L174.4 463.9L183.5 477.0L192.8 490.1L202.2 503.1M250.6 317.5L248.1 331.0L245.5 344.4L243.0 357.8L240.4 371.2L237.9 384.6L235.3 398.1L232.8 411.5L230.3 425.0L227.7 438.4L225.2 451.8L223.1 462.6L220.1 471.7L214.8 476.3L211.3 471.4L205.5 473.1L204.4 479.8L203.8 489.5L204.3 499.3L202.2 503.1M202.2 503.1L202.1 507.2L204.5 514.7L209.2 523.9L201.4 530.7L196.6 540.9L192.3 545.7L194.6 557.2L190.6 563.9L188.3 563.8M459.6 482.3L458.6 495.9L457.8 495.9L456.7 509.5L455.7 523.1L454.7 536.8L453.7 550.4L452.6 564.0L451.6 577.6L450.6 591.2L449.6 604.8L448.5 618.3M448.5 618.3L436.9 617.5L425.3 616.6L413.8 615.6L402.2 614.5L390.6 613.4L379.0 612.2L367.5 611.0L367.2 613.7L368.9 617.2M458.6 495.9L469.4 496.7L480.2 497.3L490.9 498.0L501.7 498.5L512.5 499.1L523.2 499.5M523.2 499.5L522.5 517.2L521.8 534.8L521.1 552.5M521.1 552.5L527.6 557.1L538.6 560.2L551.8 564.7L562.9 566.3L571.8 570.5L582.9 576.1L589.6 570.7L596.3 573.5L605.2 576.2L620.8 572.6L632.0 573.3L643.7 578.9L653.6 581.1M484.9 401.7L495.6 402.4L506.2 402.9L516.9 403.4L527.6 403.9L538.2 404.3L548.9 404.6L559.6 404.9L570.3 405.1L580.9 405.2L591.6 405.3L602.3 405.4L613.0 405.4L623.6 405.3M450.6 317.2L460.5 318.0L470.4 318.7L480.4 319.4L490.3 320.0L500.2 320.6L510.1 321.1L520.1 321.6L530.0 322.0L539.9 322.4L549.9 322.7L559.8 323.0L571.5 328.7L581.4 326.9L595.2 334.4L600.1 337.4M457.2 237.6L467.2 238.4L477.3 239.2L487.4 239.8L497.4 240.5L507.5 241.1L517.6 241.6L527.7 242.0L537.8 242.4L547.8 242.8L557.9 243.1L568.0 243.3L578.1 243.5L588.2 243.6L598.3 243.7M586.5 161.2L587.5 174.6L588.6 188.1L593.1 201.5L594.8 217.7L598.3 233.9L598.3 243.7L592.8 252.8L600.3 261.0L600.3 277.3L600.2 293.6L600.2 309.9M600.2 309.9L597.3 315.3L600.2 322.1L597.2 330.3L600.1 337.4M600.2 309.9L610.4 309.9L620.7 309.8L630.9 309.7L641.1 309.5L651.3 309.3L661.6 309.0L671.8 308.7L682.0 308.3L692.2 307.8L702.4 307.3M600.1 337.4L604.1 348.0L607.1 358.9L610.6 370.9L612.2 380.8L613.9 389.5L619.5 398.5L623.6 405.3L632.0 412.0L627.9 418.9L638.5 429.2L638.6 443.6L638.7 458.1L638.9 472.6L639.0 487.1L639.3 500.8M613.9 389.5L624.2 389.3L634.5 389.1L644.8 388.8L655.1 388.5L665.4 388.1L675.7 387.6L685.9 387.1L696.2 386.5L702.9 392.5M639.3 500.8L651.3 500.6L663.4 500.3L675.4 499.9L687.4 499.4L699.5 498.9L711.5 498.3L723.6 497.6L735.6 496.9L731.7 510.8L746.2 509.9M639.3 500.8L641.6 515.8L643.9 530.8L643.9 546.8L643.8 562.9L643.7 578.9M653.6 581.1L654.0 596.1L654.3 609.7L654.6 623.4L658.1 634.2L666.4 644.8L663.4 661.2L663.8 674.8L660.5 686.2M654.0 596.1L666.8 595.8L679.6 595.4L692.4 594.9L705.2 594.3L718.0 593.7M670.3 274.7L680.2 279.8L688.2 286.2L698.2 293.9L701.4 299.2L702.4 307.3L704.5 319.5L715.2 333.9L724.8 344.2L725.2 351.0L717.8 361.0L708.9 364.3L708.8 380.7L702.9 392.5L703.9 404.8L705.2 411.0L718.3 422.6L721.0 432.0L730.4 432.8L731.2 438.8L728.4 450.8L736.2 457.1L739.5 458.3L748.0 474.1L756.1 481.8L755.7 491.4L749.6 496.0L746.2 509.9L739.5 534.2L734.9 538.0L729.1 552.1L721.1 566.2L719.7 582.7L718.0 593.7L725.9 612.3L721.8 620.8L715.5 633.3L711.7 648.5M711.7 648.5L726.1 647.8L740.5 646.9L754.9 646.0L752.7 655.1L759.5 668.2M670.3 274.7L670.1 266.6L672.6 257.0L668.0 250.4L678.5 238.6L678.0 222.7L683.3 221.4M713.3 223.3L725.9 228.4L738.5 233.5L748.1 236.3L758.0 240.9L764.7 252.5L769.1 258.9M715.2 333.9L726.5 333.2L737.8 332.4L749.0 331.6L760.3 330.7L771.6 329.7M778.9 350.4L780.3 366.5L781.8 382.6L783.3 398.7L784.8 414.9L784.5 427.3L786.5 433.1L778.9 447.0L777.7 458.1M789.3 348.3L800.2 347.2L811.1 346.1L822.0 344.8L832.8 343.6L846.5 342.3L860.2 340.9M832.8 343.6L834.6 358.0L836.3 372.4L838.0 386.8L839.8 401.3L841.5 415.7M923.2 361.5L921.7 368.4L922.0 376.6L920.7 387.9L909.8 398.0L905.3 409.7L897.6 422.0L890.1 428.6L880.5 420.8L867.4 425.4L855.4 422.3L848.1 414.9L841.5 415.7L834.9 427.5L829.6 427.3L824.8 440.5L814.0 449.1L810.1 452.3L797.8 456.8L787.8 452.5L777.7 458.1L770.1 469.7L767.7 478.7L756.1 481.8M751.3 495.8L766.0 494.7L780.8 493.5L780.3 488.6L792.1 487.8L803.8 487.0L815.5 486.1L827.2 485.1L839.0 484.1L850.7 482.9L862.4 481.8L874.1 480.5M874.1 480.5L889.4 468.8L900.7 457.5L906.7 449.9L899.2 447.2L891.1 435.4L890.1 428.6M874.1 480.5L884.8 479.1L895.4 477.7L906.1 476.2L916.8 474.7L928.0 473.0L939.3 471.3L950.5 469.5L961.7 467.6L973.0 465.7L984.2 463.7L995.4 461.7L1006.6 459.6L1017.7 457.4L1028.9 455.2L1040.0 452.9M916.8 474.7L912.0 489.0L899.5 493.6L889.7 501.9L881.7 507.9L871.5 514.0L865.9 526.0M892.3 522.2L879.1 524.1L865.9 526.0L851.8 527.8L837.8 529.6L826.4 530.8L815.1 531.9L803.7 533.0L792.4 534.0L781.0 534.9L769.5 535.8L758.0 536.6L746.4 537.3L734.9 538.0M781.0 534.9L781.2 549.0L781.4 563.2L781.6 577.3L781.7 591.4L781.9 605.6L782.0 619.7L783.7 633.5L785.4 647.4L787.0 661.2M837.8 529.6L841.7 543.6L845.7 557.7L849.8 571.7L853.9 585.7L859.7 600.6L859.7 619.8L863.9 635.8L868.1 643.2M868.1 643.2L880.4 642.4L892.8 641.6L905.1 640.7L917.5 639.8L929.9 638.7L934.2 643.8L933.7 633.2L946.5 632.1M863.9 635.8L851.9 637.1L840.0 638.5L828.0 639.7L816.0 640.9L804.0 642.0L809.7 652.4L808.1 661.3M953.4 594.9L939.7 581.4L923.8 559.8L907.3 547.6L894.2 534.3L888.2 531.0L892.3 522.2M892.3 522.2L909.1 514.3L922.9 512.9L936.7 511.4L937.1 514.1L939.3 512.3L943.8 519.4L955.9 517.6L968.0 515.8L982.4 526.1L997.0 536.3M906.7 449.9L923.8 455.6L942.0 445.4L945.9 430.8L950.6 414.7L958.5 416.9L965.6 405.9L973.1 387.0L985.1 392.2L986.3 386.6M986.3 386.6L981.2 379.8L975.0 378.3L970.4 384.1L963.5 381.8L958.5 387.8L950.7 396.4L948.5 382.6M927.3 386.3L938.0 384.4L948.7 382.6L959.4 380.6L970.1 378.6L980.7 376.6L991.4 374.5L1002.0 372.3L1012.6 370.1L1023.2 367.8L1026.4 364.0L1030.6 363.9M927.3 386.3L924.8 371.0L922.3 355.8L919.7 340.6L917.2 325.4M1023.2 367.8L1027.8 384.6L1032.5 401.3L1045.8 398.3M986.3 386.6L992.5 388.8L1002.5 395.1L1001.2 410.7L1007.6 410.8L1022.3 416.1M1032.3 415.4L1044.2 410.5M1030.6 363.9L1035.4 360.0L1041.3 350.8L1029.3 339.6L1029.0 331.5L1035.1 319.2L1026.8 314.4L1018.5 305.1L1007.7 307.4L997.0 309.7L986.2 312.0L975.4 314.2L964.6 316.3L953.7 318.3L942.9 320.3L932.1 322.3L930.8 315.0M1035.1 319.2L1053.1 325.1L1052.6 333.6M1058.0 323.9L1055.8 321.6L1060.0 317.5L1058.1 315.4L1054.4 295.3L1054.3 275.6L1049.2 254.4L1046.1 253.8L1043.1 237.7L1037.9 216.4M1054.4 295.3L1065.4 292.8L1076.3 290.3L1087.3 287.8L1095.5 285.9L1096.3 288.8L1098.1 291.7L1101.4 293.9L1104.1 298.0M1087.3 287.8L1091.8 304.1L1091.0 306.6M1054.3 275.6L1069.8 272.3L1081.0 269.8L1092.2 267.3L1096.7 261.3L1100.1 260.3M1069.8 272.3L1067.0 257.0L1067.8 244.2L1068.2 234.2L1073.9 221.5L1072.2 207.6M1100.9 254.5L1093.3 247.2L1088.6 231.6L1083.2 214.8L1077.9 197.9" fill="none" stroke="#000" stroke-opacity="0.27" stroke-width="1.25" stroke-linejoin="round"/>
<path d="M133.3 95.2L142.3 97.7L151.3 100.2L160.4 102.7L169.4 105.1L178.5 107.5L187.6 109.8L196.7 112.0L205.8 114.2L214.9 116.4L224.0 118.5L233.2 120.6L250.4 124.3L259.2 126.1L268.0 127.9L276.9 129.7L285.7 131.4L294.5 133.0L303.4 134.6L312.3 136.2L321.1 137.7L330.0 139.2L338.9 140.6L347.8 142.0L356.7 143.3L365.6 144.6L374.5 145.8L383.4 147.0L392.3 148.1L401.3 149.2L410.2 150.3L419.2 151.3L428.1 152.2L437.1 153.1L446.0 154.0L455.0 154.8L463.9 155.5L473.3 156.3L482.8 157.0L492.2 157.6L501.6 158.2L511.0 158.8L520.5 159.3L529.9 159.7L539.3 160.1L548.7 160.4L558.2 160.7L567.6 160.9L577.1 161.1L586.5 161.2L595.9 161.3L605.2 161.3L614.6 161.3L623.9 161.2L623.8 151.0L629.2 152.6L632.1 163.8L634.0 168.6L648.5 172.8L655.7 171.3L663.9 170.5L672.2 176.0L681.4 178.3L690.8 184.1L703.4 179.9L718.1 181.7L727.4 183.8L713.2 191.4L700.9 201.6L690.4 212.9L681.4 220.1L683.3 221.4L698.0 216.6L705.3 213.5L706.6 220.2L704.0 223.0L713.3 223.3L724.1 216.4L733.3 213.8L740.3 208.4L748.9 199.6L758.2 195.6L761.3 197.2L753.4 208.7L749.2 215.0L753.6 211.4L763.0 211.9L769.3 219.5L776.8 220.1L783.6 221.6L795.3 213.6L807.8 210.9L814.1 208.8L814.0 216.1L821.6 216.0L826.1 214.6L830.5 219.5L836.3 227.8L827.9 228.6L821.3 232.4L815.5 228.2L806.0 227.9L792.4 233.5L787.0 236.8L786.8 243.6L782.4 238.6L777.9 240.4L773.9 248.9L769.1 258.9L764.2 268.9L762.9 275.3L768.1 268.6L774.7 257.0L780.0 252.4L775.5 265.1L772.6 276.3L770.6 286.0L770.5 295.6L768.3 315.5L771.4 327.5L772.3 337.8L777.1 347.0L780.6 352.2L789.6 350.8L796.9 343.7L799.8 332.4L802.4 319.3L798.5 307.1L794.1 296.1L794.0 286.5L796.5 272.6L798.2 261.5L806.0 253.8L808.0 263.1L810.9 254.6L813.1 248.4L818.5 245.5L815.0 240.5L821.4 234.8L826.7 237.7L840.1 242.3L848.4 251.0L852.2 260.4L852.7 268.5L849.2 274.5L843.6 283.4L844.5 290.2L852.0 287.8L854.9 280.6L861.2 276.4L869.0 282.7L872.9 295.9L875.6 303.7L875.4 313.4L869.0 317.1L865.0 324.5L864.9 331.4L860.2 341.2L869.6 343.2L876.1 345.8L886.1 344.9L895.9 342.1L904.8 333.8L912.0 328.4L924.7 319.4L930.8 315.0L937.7 307.4L945.0 295.6L939.9 286.0L949.9 281.1L967.8 280.4L979.2 277.8L987.8 270.7L993.1 267.4L991.1 258.1L986.9 252.6L992.3 245.3L1002.6 229.7L1012.8 222.6L1025.4 219.6L1037.9 216.4L1049.3 213.5L1060.8 210.6L1072.2 207.6L1072.5 201.6L1077.9 197.9L1082.5 198.1L1082.2 193.4L1086.4 183.8L1087.8 178.4L1085.8 167.7L1087.4 156.0L1095.6 132.3L1099.8 135.6L1103.2 137.4L1112.6 130.1L1124.1 134.7L1128.6 149.4L1133.2 164.2L1135.2 168.6L1141.8 170.8L1144.2 178.6L1148.2 181.6L1153.1 181.5L1157.3 188.1L1152.6 195.8L1147.9 200.2L1138.9 210.1L1131.1 211.0L1125.8 206.9L1124.8 217.1L1118.9 224.5L1112.9 231.9L1106.1 236.6L1104.8 242.7L1102.1 247.6L1100.9 254.5L1100.1 260.3L1101.7 264.7L1105.9 265.0L1101.2 270.5L1100.5 275.5L1106.1 277.1L1110.0 283.6L1114.2 287.6L1123.8 284.6L1121.8 281.2L1117.7 277.8L1123.1 280.0L1125.6 287.2L1119.1 290.2L1113.1 294.9L1110.9 290.5L1104.1 298.0L1102.6 298.4L1098.9 292.3L1097.6 295.5L1098.1 303.5L1091.0 306.6L1086.4 308.3L1081.8 310.4L1071.0 313.1L1065.9 317.7L1058.0 323.9L1056.3 329.9L1057.0 328.3L1067.4 323.8L1078.8 319.3L1083.6 313.3L1084.6 317.2L1092.5 313.2L1082.0 323.5L1067.3 332.0L1053.9 337.0L1052.6 333.6L1052.4 335.1L1049.3 340.0L1054.6 340.2L1056.2 346.8L1057.0 359.2L1053.5 371.3L1044.9 385.1L1044.5 378.5L1035.6 376.8L1030.4 372.4L1028.6 369.4L1029.6 373.9L1034.8 382.6L1042.9 389.2L1045.8 398.3L1044.2 410.5L1041.9 414.6L1037.1 432.5L1034.0 438.0L1032.9 427.8L1035.7 416.0L1032.3 415.4L1028.8 409.1L1019.9 402.6L1020.2 394.2L1017.3 380.8L1020.0 373.3L1012.8 384.6L1014.0 389.9L1014.1 395.5L1019.0 408.4L1022.1 415.0L1015.4 412.0L1006.6 411.0L1018.9 418.2L1023.3 418.7L1025.6 429.4L1028.1 441.4L1028.7 444.1L1035.1 443.3L1040.0 452.9L1045.7 461.4L1054.1 476.4L1055.0 486.5L1046.0 493.5L1036.7 508.1L1022.6 511.0L1011.7 524.3L1010.2 534.3L997.0 536.3L991.2 542.1L986.6 554.0L983.6 562.9L972.6 571.8L962.2 585.2L957.1 589.6L953.4 594.9L949.6 607.3L946.0 621.7L946.5 632.1L949.0 640.5L953.4 653.5L963.4 671.1L966.4 674.7L977.2 689.4L977.6 698.9L987.4 713.7L997.5 733.8L998.5 750.0L998.9 759.4L996.0 772.2L990.5 776.4L984.5 778.2L978.3 779.2L974.8 772.9L960.8 762.9L957.3 756.7L951.1 748.1L946.9 736.5L944.9 739.5L934.5 727.4L930.1 722.6L933.6 712.6L926.4 713.6L925.5 706.9L926.7 690.4L923.2 682.7L915.6 679.7L911.5 676.1L900.4 664.0L890.0 657.1L882.4 662.2L868.1 670.8L860.0 672.6L858.1 666.5L850.5 661.9L845.6 659.7L831.1 656.3L815.0 659.3L808.1 661.3L802.4 662.6L798.6 658.9L795.6 652.3L794.0 660.6L787.0 661.2L777.7 661.4L770.7 662.0L763.9 664.4L759.5 668.2L756.1 670.4L760.9 672.2L764.9 677.9L760.5 682.3L768.1 689.9L773.3 696.3L766.5 700.9L764.8 694.2L755.1 690.8L751.8 693.8L747.3 698.1L730.8 700.5L721.0 694.2L709.0 689.4L704.1 686.9L690.0 688.0L675.7 683.4L660.5 686.2L647.7 690.1L639.5 696.2L626.6 707.1L610.0 717.5L590.9 726.9L581.2 739.0L576.2 751.1L577.4 759.2L578.4 772.6L582.0 787.2L575.8 789.5L556.2 784.4L534.4 774.4L526.4 758.0L525.6 744.5L507.2 723.6L502.9 711.2L494.3 693.2L483.1 681.2L462.2 677.0L452.5 681.2L440.5 700.2L425.8 691.0L412.3 682.2L406.5 668.1L401.0 651.3L390.4 640.0L379.9 628.7L371.8 618.3L368.9 617.2L356.1 615.7L343.4 614.2L330.6 612.7L329.1 624.8L316.0 623.1L303.0 621.3L289.9 619.5L276.9 617.6L263.8 615.5L252.4 609.1L241.0 602.7L229.7 596.2L218.4 589.6L207.2 583.0L196.1 576.3L185.1 569.5L188.3 563.8L174.7 562.4L161.1 560.9L147.5 559.3L133.9 557.6L133.0 548.5L132.6 540.0L128.6 532.1L121.4 523.4L116.4 520.3L113.3 518.7L112.8 511.1L106.2 510.0L97.4 503.7L89.4 494.6L73.2 489.1L70.2 484.6L74.9 471.2L71.1 462.5L64.0 452.4L60.9 439.1L58.3 424.2L61.8 419.5L58.8 414.2L52.4 405.5L52.5 397.0L54.8 389.2L47.1 381.3L48.4 373.1L43.9 366.1L39.1 351.9L41.6 336.9L41.6 322.6L37.2 308.7L44.0 300.5L49.1 290.6L51.5 275.7L53.3 269.1L52.0 260.2L53.5 245.2L62.7 232.1L70.6 217.4L76.4 202.1L80.8 192.1L85.4 179.4L88.7 169.1L90.7 159.2L92.8 149.1L93.8 142.4L92.9 129.4L92.2 113.7L94.4 100.9L105.5 110.2L115.0 114.4L126.8 117.8L126.0 128.0L116.7 143.5L125.8 141.9L130.4 133.4L135.6 124.2L132.7 114.5L135.9 102.9L133.3 95.2Z" fill="none" stroke="#000" stroke-opacity="0.4" stroke-width="1.7" stroke-linejoin="round"/>
<path d="M962.7 796.7L972 793.3L980 790.7L985.3 786.7L992 782.7L995.3 777.3L998.7 769.3" fill="none" stroke="#000" stroke-opacity="0.4" stroke-width="1.3" stroke-dasharray="3 2.5 2 3 4 2"/>
<path d="M1117 298.5l4-1.2l3 1.4l-4 1.3zM1127 296.5l3.5-1l1.5 1.8l-3.5 0.8z" fill="#fff" stroke="#000" stroke-opacity="0.45" stroke-width="0.8"/>
<path d="M734.5 183.5L746.5 177.6L747.5 178.8L736 184.5Z" fill="#fafafa" stroke="#000" stroke-opacity="0.3" stroke-width="0.7"/>
<path d="M46.5 376.9L50.7 381.1L53.0 386.0L56.3 389.5L60.4 397.8M54.0 383.0L56.3 381.1L61.8 378.3L68.0 383.0L75.8 386.7" fill="none" stroke="#000" stroke-opacity="0.45" stroke-width="0.8"/>
<path d="M128.0 100.0L130.0 104.0L127.0 107.0L129.0 111.0L126.0 114.0M124.0 103.0L126.0 101.5L127.5 103.5L125.5 105.0ZM131.0 112.0L128.0 118.0L130.0 124.0L125.0 130.0L121.0 136.0L118.0 141.0" fill="none" stroke="#000" stroke-opacity="0.55" stroke-width="0.8"/>
<path d="M1050.0 198.0L1050.0 218.0" stroke="#d0d0d0" stroke-width="3" fill="none"/>
<path d="M1050.0 198.0L1050.0 218.0" stroke="#fff" stroke-width="1" fill="none"/>
<path d="M1120.0 256.0L1103.0 256.0" stroke="#d0d0d0" stroke-width="3" fill="none"/>
<path d="M1120.0 256.0L1103.0 256.0" stroke="#fff" stroke-width="1" fill="none"/>
<path d="M1136.0 286.0L1118.0 288.0" stroke="#d0d0d0" stroke-width="3" fill="none"/>
<path d="M1136.0 286.0L1118.0 288.0" stroke="#fff" stroke-width="1" fill="none"/>
<path d="M1117.0 313.0L1098.0 298.0" stroke="#d0d0d0" stroke-width="3" fill="none"/>
<path d="M1117.0 313.0L1098.0 298.0" stroke="#fff" stroke-width="1" fill="none"/>
<path d="M1092.0 317.0L1082.0 306.0" stroke="#d0d0d0" stroke-width="3" fill="none"/>
<path d="M1092.0 317.0L1082.0 306.0" stroke="#fff" stroke-width="1" fill="none"/>
<path d="M1069.0 352.0L1052.0 352.0" stroke="#d0d0d0" stroke-width="3" fill="none"/>
<path d="M1069.0 352.0L1052.0 352.0" stroke="#fff" stroke-width="1" fill="none"/>
<path d="M1065.0 391.0L1040.0 391.0" stroke="#d0d0d0" stroke-width="3" fill="none"/>
<path d="M1065.0 391.0L1040.0 391.0" stroke="#fff" stroke-width="1" fill="none"/>
<path d="M1060.0 420.0L1040.0 405.0" stroke="#d0d0d0" stroke-width="3" fill="none"/>
<path d="M1060.0 420.0L1040.0 405.0" stroke="#fff" stroke-width="1" fill="none"/>
<g class="lab" filter="url(#halo)">
<text x="163" y="160.2">WA</text>
<text x="136" y="246.2">OR</text>
<text x="252" y="279.2">ID</text>
<text x="362" y="209.2">MT</text>
<text x="381" y="319.2">WY</text>
<text x="181" y="382.2">NV</text>
<text x="97" y="430.2">CA</text>
<text x="286" y="412.2">UT</text>
<text x="411" y="435.2">CO</text>
<text x="264" y="542.2">AZ</text>
<text x="386" y="555.2">NM</text>
<text x="529" y="211.2">ND</text>
<text x="528" y="290.2">SD</text>
<text x="530" y="372.2">NE</text>
<text x="560" y="453.2">KS</text>
<text x="581" y="538.2">OK</text>
<text x="537" y="644.2">TX</text>
<text x="637" y="250.2">MN</text>
<text x="659" y="356.2">IA</text>
<text x="685" y="458.2">MO</text>
<text x="688" y="555.2">AR</text>
<text x="689" y="652.2">LA</text>
<text x="729" y="290.2">WI</text>
<text x="749" y="405.2">IL</text>
<text x="833" y="314.2">MI</text>
<text x="812" y="405.2">IN</text>
<text x="881" y="388.2">OH</text>
<text x="846" y="468.2">KY</text>
<text x="816" y="520.2">TN</text>
<text x="753" y="606.2">MS</text>
<text x="820" y="599.2">AL</text>
<text x="898" y="596.2">GA</text>
<text x="953" y="705.2">FL</text>
<text x="949" y="554.2">SC</text>
<text x="978" y="502.2">NC</text>
<text x="981" y="446.2">VA</text>
<text x="926" y="429.2">WV</text>
<text x="981" y="353.2">PA</text>
<text x="1018" y="284.2">NY</text>
<text x="1050" y="195.2">VT</text>
<text x="1113" y="194.2">ME</text>
<text x="1138" y="263.2">NH</text>
<text x="1156" y="293.2">MA</text>
<text x="1129" y="326.2">RI</text>
<text x="1102" y="335.2">CT</text>
<text x="1085" y="360.2">NJ</text>
<text x="1082" y="399.2">DE</text>
<text x="1080" y="432.2">MD</text>
</g>
<text x="4.5" y="813" font-size="21" font-style="italic" fill="#a6a6a6" textLength="236.5" lengthAdjust="spacingAndGlyphs">AK and HI not to scale</text>
<circle cx="1161.6" cy="791.9" r="24.6" fill="#fdfdfd"/>
<clipPath id="lg"><circle cx="1161.6" cy="791.9" r="22.4"/></clipPath>
<g clip-path="url(#lg)">
<rect x="1135" y="765" width="54" height="54" fill="#fff"/>
<path d="M1143.67 779.21 C1148.40 772.32 1155.16 769.61 1161.59 769.48 C1168.69 769.48 1174.78 772.32 1178.97 778.74 C1174.10 781.78 1172.07 787.87 1170.04 791.93 C1168.01 794.97 1165.31 795.98 1162.60 795.31 C1157.87 793.96 1153.81 789.22 1151.11 785.16 C1148.40 781.45 1146.37 780.09 1143.67 779.21 Z" fill="#22397f"/>
<path d="M1138.93 786.86 C1141.64 784.83 1143.67 786.52 1145.70 788.88 C1150.43 794.29 1154.49 797.34 1159.90 798.35 L1154.83 801.39 C1160.57 802.07 1166.66 798.69 1170.04 795.98 C1175.45 791.59 1178.83 786.52 1180.86 783.14 C1182.21 781.78 1183.91 783.81 1184.92 787.87 L1184.92 817.62 L1138.26 817.62 L1138.26 786.86 Z" fill="#0a7dd2"/>
</g>
<text x="1161.2" y="784.2" font-size="5.6" font-weight="bold" fill="#e8ebf5" text-anchor="middle" textLength="17" lengthAdjust="spacingAndGlyphs">NOAA</text>
</g>
<rect x="0" y="825" width="356" height="284.5" fill="#f5f5f5"/>
<rect x="359" y="825" width="215.2" height="284.5" fill="#f5f5f5"/>
<rect x="576.8" y="825" width="623.2" height="284.5" fill="#f5f5f5"/>
<clipPath id="akbox"><rect x="0" y="825" width="356" height="284.5"/></clipPath>
<g clip-path="url(#akbox)">
<path d="M0.0 822.0L9.0 828.0L27.0 837.0L45.0 846.0L60.0 861.0L72.0 876.0L81.0 891.0L90.0 897.0L102.0 903.0L105.0 912.0L99.0 918.0L90.0 925.5L81.0 925.5L73.5 919.5L64.5 901.5L58.5 901.5L45.0 909.0L40.5 924.0L39.0 933.0L18.0 931.5L0.0 928.5Z" fill="#e2e2e2"/>
<path d="M241.5 874.5L261.2 863.3L277.6 853.0L285.7 840.8L298.0 836.7L310.0 840.8L326.5 834.7L338.8 826.5L348.0 823.0L360.0 823.0L360.0 1014.0L353.0 1011.0L350.7 1004.0L341.3 1001.7L327.4 994.7L313.4 985.3L304.0 976.0L298.2 977.2L290.0 984.2L280.7 980.7L276.0 974.8L266.7 977.2Z" fill="#e2e2e2"/>
<clipPath id="akclip"><path d="M241.0 873.3L266.7 977.2L276.0 974.8L280.7 980.7L290.0 984.2L298.2 977.2L304.0 976.0L313.4 985.3L327.4 994.7L341.3 1001.7L350.7 1004.0L353.0 1011.0L343.7 1018.0L336.7 1020.3L327.4 1011.0L313.4 999.3L301.7 990.0L290.0 987.7L278.3 984.2L266.7 980.7L257.3 980.7L248.0 983.0L238.7 977.2L229.4 980.7L220.0 985.3L210.7 992.3L201.4 997.0L203.7 990.0L210.7 980.7L214.2 971.3L210.7 976.0L201.4 985.3L192.0 994.7L188.3 1001.7L180.0 1016.7L166.7 1028.3L150.0 1036.7L133.3 1043.3L116.7 1048.3L109.5 1049.1L113.3 1045.0L123.3 1041.7L136.7 1035.0L150.0 1028.3L163.3 1018.3L168.0 1008.6L167.5 1000.5L161.7 999.3L154.7 1005.2L147.7 1001.7L137.2 1001.7L138.3 992.3L133.7 990.0L122.0 985.3L119.7 976.0L116.2 966.7L119.7 962.0L126.7 952.7L138.3 950.3L147.7 945.7L150.0 937.5L146.5 932.8L138.3 935.2L126.7 931.7L117.3 928.2L115.0 920.0L124.4 915.3L136.0 913.0L147.7 917.7L150.0 913.0L143.0 907.2L136.0 900.2L127.8 892.0L129.0 887.3L138.3 882.7L147.7 875.7L157.0 869.8L166.4 866.3L174.5 860.5L182.7 865.2L192.0 867.5L206.0 869.8L217.7 872.2L229.4 869.8ZM183.8 1021.5L189.7 1013.3L196.7 1007.5L201.4 1008.7L199.0 1015.7L192.0 1022.7L186.2 1026.2ZM104.5 981.8L110.3 979.5L116.2 981.8L115.0 986.5L108.0 985.3ZM88.2 937.5L92.9 935.9L98.7 941.0L104.5 944.5L103.4 947.5L96.4 944.5L90.5 941.5Z"/></clipPath>
<path d="M241.0 873.3L266.7 977.2L276.0 974.8L280.7 980.7L290.0 984.2L298.2 977.2L304.0 976.0L313.4 985.3L327.4 994.7L341.3 1001.7L350.7 1004.0L353.0 1011.0L343.7 1018.0L336.7 1020.3L327.4 1011.0L313.4 999.3L301.7 990.0L290.0 987.7L278.3 984.2L266.7 980.7L257.3 980.7L248.0 983.0L238.7 977.2L229.4 980.7L220.0 985.3L210.7 992.3L201.4 997.0L203.7 990.0L210.7 980.7L214.2 971.3L210.7 976.0L201.4 985.3L192.0 994.7L188.3 1001.7L180.0 1016.7L166.7 1028.3L150.0 1036.7L133.3 1043.3L116.7 1048.3L109.5 1049.1L113.3 1045.0L123.3 1041.7L136.7 1035.0L150.0 1028.3L163.3 1018.3L168.0 1008.6L167.5 1000.5L161.7 999.3L154.7 1005.2L147.7 1001.7L137.2 1001.7L138.3 992.3L133.7 990.0L122.0 985.3L119.7 976.0L116.2 966.7L119.7 962.0L126.7 952.7L138.3 950.3L147.7 945.7L150.0 937.5L146.5 932.8L138.3 935.2L126.7 931.7L117.3 928.2L115.0 920.0L124.4 915.3L136.0 913.0L147.7 917.7L150.0 913.0L143.0 907.2L136.0 900.2L127.8 892.0L129.0 887.3L138.3 882.7L147.7 875.7L157.0 869.8L166.4 866.3L174.5 860.5L182.7 865.2L192.0 867.5L206.0 869.8L217.7 872.2L229.4 869.8ZM183.8 1021.5L189.7 1013.3L196.7 1007.5L201.4 1008.7L199.0 1015.7L192.0 1022.7L186.2 1026.2ZM104.5 981.8L110.3 979.5L116.2 981.8L115.0 986.5L108.0 985.3ZM88.2 937.5L92.9 935.9L98.7 941.0L104.5 944.5L103.4 947.5L96.4 944.5L90.5 941.5Z" fill="#fff"/>
<g clip-path="url(#akclip)">
<path d="M123.0 954.5L193.2 1003.3L180.0 1062.0L90.0 1062.0L90.0 954.0Z" fill="#f7ebd0"/>
<path d="M116.1 962.7L187.4 1010.3L210.0 1014.0L210.0 1062.0L0.0 1062.0L90.0 972.0Z" fill="#eed8a5"/>
<path d="M252.0 900.6L246.8 904.8L238.7 913.0L229.4 922.3L220.0 934.0L214.2 945.7L211.9 957.3L211.9 966.7L214.2 973.7L216.0 990.0L360.0 990.0L360.0 900.6Z" fill="#d2ece7"/>
<path d="M231.7 967.2L234.0 962.0L243.4 958.5L255.0 957.3L264.0 957.8L264.0 972.0L360.0 972.0L360.0 1032.0L232.5 1032.0L231.0 975.0Z" fill="#a6dbd3"/>
</g>
<path d="M241.0 873.3L266.7 977.2L276.0 974.8L280.7 980.7L290.0 984.2L298.2 977.2L304.0 976.0L313.4 985.3L327.4 994.7L341.3 1001.7L350.7 1004.0L353.0 1011.0L343.7 1018.0L336.7 1020.3L327.4 1011.0L313.4 999.3L301.7 990.0L290.0 987.7L278.3 984.2L266.7 980.7L257.3 980.7L248.0 983.0L238.7 977.2L229.4 980.7L220.0 985.3L210.7 992.3L201.4 997.0L203.7 990.0L210.7 980.7L214.2 971.3L210.7 976.0L201.4 985.3L192.0 994.7L188.3 1001.7L180.0 1016.7L166.7 1028.3L150.0 1036.7L133.3 1043.3L116.7 1048.3L109.5 1049.1L113.3 1045.0L123.3 1041.7L136.7 1035.0L150.0 1028.3L163.3 1018.3L168.0 1008.6L167.5 1000.5L161.7 999.3L154.7 1005.2L147.7 1001.7L137.2 1001.7L138.3 992.3L133.7 990.0L122.0 985.3L119.7 976.0L116.2 966.7L119.7 962.0L126.7 952.7L138.3 950.3L147.7 945.7L150.0 937.5L146.5 932.8L138.3 935.2L126.7 931.7L117.3 928.2L115.0 920.0L124.4 915.3L136.0 913.0L147.7 917.7L150.0 913.0L143.0 907.2L136.0 900.2L127.8 892.0L129.0 887.3L138.3 882.7L147.7 875.7L157.0 869.8L166.4 866.3L174.5 860.5L182.7 865.2L192.0 867.5L206.0 869.8L217.7 872.2L229.4 869.8ZM183.8 1021.5L189.7 1013.3L196.7 1007.5L201.4 1008.7L199.0 1015.7L192.0 1022.7L186.2 1026.2ZM104.5 981.8L110.3 979.5L116.2 981.8L115.0 986.5L108.0 985.3ZM88.2 937.5L92.9 935.9L98.7 941.0L104.5 944.5L103.4 947.5L96.4 944.5L90.5 941.5Z" fill="none" stroke="#888" stroke-width="0.8" stroke-linejoin="round"/>
<path d="M113.0 1045.5L104.0 1049.0L95.0 1052.0L86.0 1055.0L77.0 1057.5" fill="none" stroke="#eed8a5" stroke-width="3.2" stroke-dasharray="7 2 4 2 6 3" stroke-linecap="round"/>
<path d="M126.0 1044.0L113.0 1048.5L104.0 1052.0L95.0 1055.0L86.0 1058.0L77.0 1060.0" fill="none" stroke="#333" stroke-opacity="0.55" stroke-width="0.8" stroke-dasharray="3 2 5 3 2 2"/>
<path d="M75.0 1058.0L70.0 1057.8L58.0 1059.7L48.0 1059.0L38.0 1056.7L25.0 1055.0L13.0 1053.0L0.0 1051.7" fill="none" stroke="#444" stroke-opacity="0.8" stroke-width="1.5" stroke-dasharray="5 3 2 4 7 3 1 3"/>
<path d="M297.0 981.0L306.0 990.0L315.0 996.0L324.0 1005.0L333.0 1014.0L342.0 1017.0L300.0 985.5L309.0 994.5L318.0 1002.0L327.0 1011.0L336.0 1018.5L301.5 978.0L312.0 987.0L322.5 997.5L331.5 1006.5L345.0 1011.0" fill="none" stroke="#445" stroke-width="0.7" stroke-dasharray="3 2 5 2"/>
<path d="M195.0 994.5L207.0 985.5L216.0 978.0L223.5 981.0L231.0 976.5L237.0 979.5L228.0 984.0L220.5 986.4L210.0 990.0L201.0 996.0" fill="none" stroke="#333" stroke-width="0.8" stroke-dasharray="2 2 4 1"/>
</g>
<g class="lab" filter="url(#halo)"><text x="192" y="942">AK</text><text x="530" y="963">HI</text></g>
<path d="M390.0 921.7L395.0 917.3L396.7 919.3L391.7 925.0ZM403.3 915.0L408.3 911.7L416.0 911.7L418.3 916.7L415.0 922.7L408.3 923.3L404.0 920.0ZM445.0 931.7L451.7 928.3L456.7 932.7L462.7 938.3L460.0 942.7L453.3 940.0L450.0 941.7L446.0 936.7ZM471.7 945.0L486.7 944.0L487.3 947.3L473.3 949.3ZM478.3 954.0L483.3 952.7L486.0 956.7L482.7 960.0L479.3 958.0ZM489.3 951.7L496.7 950.0L500.0 954.0L506.7 955.0L510.0 960.0L505.0 964.0L499.3 962.7L496.0 957.3L490.7 956.7ZM489.0 963.3L493.3 962.7L492.7 965.7L489.0 965.7ZM511.7 976.7L516.7 973.3L526.7 978.3L535.0 986.7L542.7 996.7L535.0 1004.0L526.7 1008.3L520.0 1016.7L515.0 1018.3L510.0 1008.3L508.3 1000.0L506.7 991.7L510.0 985.0Z" fill="#e5e5e5" stroke="#a0a0a0" stroke-width="0.9" stroke-linejoin="round"/>
<text x="744.5" y="858.5" font-size="21" font-weight="bold" fill="#333" textLength="117.5" lengthAdjust="spacingAndGlyphs">Probability</text>
<text x="869.5" y="858.5" font-size="22.5" fill="#444" textLength="174.5" lengthAdjust="spacingAndGlyphs">(percent chance)</text>
<text x="665.5" y="894" font-size="19.5" font-weight="bold" fill="#333" textLength="140.5" lengthAdjust="spacingAndGlyphs">Below Normal</text>
<text x="976" y="894" font-size="19.5" font-weight="bold" fill="#333" textLength="140" lengthAdjust="spacingAndGlyphs">Above Normal</text>
<g font-size="19.5" font-weight="bold" fill="#333" lengthAdjust="spacingAndGlyphs"><text x="864" y="894" textLength="45.5" lengthAdjust="spacingAndGlyphs">Near</text><text x="850" y="919.5" textLength="73.3" lengthAdjust="spacingAndGlyphs">Normal</text><text x="862.7" y="1018.5" textLength="55.7" lengthAdjust="spacingAndGlyphs">Equal</text><text x="849.3" y="1043.5" textLength="82.3" lengthAdjust="spacingAndGlyphs">Chances</text></g>
<rect x="687.3" y="909.0" width="33" height="16.6" fill="#f9ecd0" stroke="#000" stroke-opacity="0.25" stroke-width="1"/>
<text x="729" y="924.3" font-size="21" fill="#444" textLength="77" lengthAdjust="spacingAndGlyphs">33–40%</text>
<rect x="1060.3" y="909.0" width="33" height="16.6" fill="#d4eeea" stroke="#000" stroke-opacity="0.25" stroke-width="1"/>
<text x="975.0" y="924.3" font-size="21" fill="#444" textLength="77" lengthAdjust="spacingAndGlyphs">33–40%</text>
<rect x="687.3" y="936.5" width="33" height="16.6" fill="#f0d9a6" stroke="#000" stroke-opacity="0.25" stroke-width="1"/>
<text x="729" y="951.8" font-size="21" fill="#444" textLength="77" lengthAdjust="spacingAndGlyphs">40–50%</text>
<rect x="1060.3" y="936.5" width="33" height="16.6" fill="#a9ddd5" stroke="#000" stroke-opacity="0.25" stroke-width="1"/>
<text x="975.0" y="951.8" font-size="21" fill="#444" textLength="77" lengthAdjust="spacingAndGlyphs">40–50%</text>
<rect x="687.3" y="963.8" width="33" height="16.6" fill="#e1bf7e" stroke="#000" stroke-opacity="0.25" stroke-width="1"/>
<text x="729" y="979.1" font-size="21" fill="#444" textLength="77" lengthAdjust="spacingAndGlyphs">50–60%</text>
<rect x="1060.3" y="963.8" width="33" height="16.6" fill="#77c5b8" stroke="#000" stroke-opacity="0.25" stroke-width="1"/>
<text x="975.0" y="979.1" font-size="21" fill="#444" textLength="77" lengthAdjust="spacingAndGlyphs">50–60%</text>
<rect x="687.3" y="991.1" width="33" height="16.6" fill="#cc9544" stroke="#000" stroke-opacity="0.25" stroke-width="1"/>
<text x="729" y="1006.4" font-size="21" fill="#444" textLength="77" lengthAdjust="spacingAndGlyphs">60–70%</text>
<rect x="1060.3" y="991.1" width="33" height="16.6" fill="#449f95" stroke="#000" stroke-opacity="0.25" stroke-width="1"/>
<text x="975.0" y="1006.4" font-size="21" fill="#444" textLength="77" lengthAdjust="spacingAndGlyphs">60–70%</text>
<rect x="687.3" y="1018.7" width="33" height="16.6" fill="#a96b1e" stroke="#000" stroke-opacity="0.25" stroke-width="1"/>
<text x="729" y="1034.0" font-size="21" fill="#444" textLength="77" lengthAdjust="spacingAndGlyphs">70–80%</text>
<rect x="1060.3" y="1018.7" width="33" height="16.6" fill="#1d7b73" stroke="#000" stroke-opacity="0.25" stroke-width="1"/>
<text x="975.0" y="1034.0" font-size="21" fill="#444" textLength="77" lengthAdjust="spacingAndGlyphs">70–80%</text>
<rect x="687.3" y="1046.3" width="33" height="16.6" fill="#80490e" stroke="#000" stroke-opacity="0.25" stroke-width="1"/>
<text x="729" y="1061.6" font-size="21" fill="#444" textLength="77" lengthAdjust="spacingAndGlyphs">80–90%</text>
<rect x="1060.3" y="1046.3" width="33" height="16.6" fill="#0b5d56" stroke="#000" stroke-opacity="0.25" stroke-width="1"/>
<text x="975.0" y="1061.6" font-size="21" fill="#444" textLength="77" lengthAdjust="spacingAndGlyphs">80–90%</text>
<rect x="687.3" y="1073.9" width="33" height="16.6" fill="#552e0a" stroke="#000" stroke-opacity="0.25" stroke-width="1"/>
<text x="729" y="1089.2" font-size="21" fill="#444" textLength="88" lengthAdjust="spacingAndGlyphs">90–100%</text>
<rect x="1060.3" y="1073.9" width="33" height="16.6" fill="#033c34" stroke="#000" stroke-opacity="0.25" stroke-width="1"/>
<text x="964.0" y="1089.2" font-size="21" fill="#444" textLength="88" lengthAdjust="spacingAndGlyphs">90–100%</text>
<rect x="832.8" y="936.5" width="33" height="16.6" fill="#cfcfcf" stroke="#a8a8a8" stroke-width="1"/>
<text x="874" y="951.8" font-size="21" fill="#444" textLength="76" lengthAdjust="spacingAndGlyphs">33–40%</text>
<rect x="832.8" y="963.8" width="33" height="16.6" fill="#b0b0b0" stroke="#a8a8a8" stroke-width="1"/>
<text x="874" y="979.1" font-size="21" fill="#444" textLength="76" lengthAdjust="spacingAndGlyphs">40–50%</text>
<rect x="873.8" y="1057" width="33" height="16.6" fill="#fff" stroke="#b0b0b0" stroke-width="1"/>
<path d="M680.5 909.5H672.5V952.5H680.5M680.5 964.5H672.5V1089.5H680.5M1098.5 909.5H1105.5V952.5H1098.5M1098.5 964.5H1105.5V1089.5H1098.5" fill="none" stroke="#ccc" stroke-width="1.3"/>
<g font-size="22" font-style="italic" fill="#9a9a9a"><text x="589.2" y="923.0" textLength="74.1" lengthAdjust="spacingAndGlyphs">Leaning</text><text x="598.0" y="950.0" textLength="57.3" lengthAdjust="spacingAndGlyphs">Below</text><text x="598.0" y="1020.0" textLength="53.3" lengthAdjust="spacingAndGlyphs">Likely</text><text x="596.7" y="1047.5" textLength="57.3" lengthAdjust="spacingAndGlyphs">Below</text><text x="1112.7" y="923.0" textLength="74.6" lengthAdjust="spacingAndGlyphs">Leaning</text><text x="1120.7" y="950.0" textLength="57.6" lengthAdjust="spacingAndGlyphs">Above</text><text x="1120.0" y="1020.0" textLength="54.0" lengthAdjust="spacingAndGlyphs">Likely</text><text x="1118.3" y="1047.0" textLength="56.7" lengthAdjust="spacingAndGlyphs">Above</text></g>
<g font-size="22.5" fill="#9a9a9a"><text x="2.7" y="1130" textLength="216" lengthAdjust="spacingAndGlyphs">Precipitation Outlook</text><text x="2.7" y="1152.5" textLength="132" lengthAdjust="spacingAndGlyphs">for April 2025</text><text x="2.7" y="1173" textLength="187.5" lengthAdjust="spacingAndGlyphs">Issued 31 Mar 2025</text><text x="883.3" y="1130" textLength="311" lengthAdjust="spacingAndGlyphs">NWS Climate Prediction Center</text><text x="883.3" y="1152.5" textLength="258.5" lengthAdjust="spacingAndGlyphs">Map by NOAA Climate.gov</text></g>
</svg>
</body></html>
